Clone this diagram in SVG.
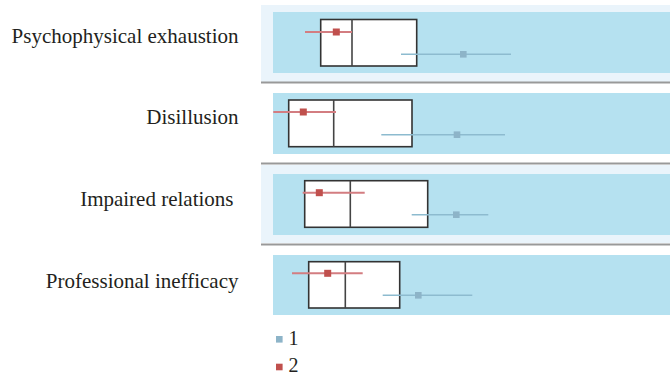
<svg xmlns="http://www.w3.org/2000/svg" width="670" height="376" viewBox="0 0 670 376">
<style>
.lbl{font-family:"Liberation Serif","Times New Roman",serif;font-size:21px;fill:#231f20;text-anchor:end}
.leg{font-family:"Liberation Serif","Times New Roman",serif;font-size:20px;fill:#231f20}
.band{fill:#eaf4fb}
.plot{fill:#b5e1f0}
.sep{stroke:#999;stroke-width:2}
.box{fill:#fff;stroke:#333;stroke-width:1.6}
.med{stroke:#444;stroke-width:1.6}
.r1{stroke:#d37d81;stroke-width:2}
.r2{fill:#c0504d}
.b1{stroke:#8dbbcf;stroke-width:1.6}
.b2{fill:#8db4c8}
</style>
<rect x="0" y="0" width="670" height="376" fill="#fff"/>
<g id="panels">
<rect class="band" x="261" y="5" width="409" height="77"/>
<rect class="band" x="261" y="165" width="409" height="78"/>
<rect class="plot" x="273" y="12" width="397" height="61"/>
<rect class="plot" x="273" y="93" width="397" height="61"/>
<rect class="plot" x="273" y="174" width="397" height="61"/>
<rect class="plot" x="273" y="255" width="397" height="60"/>
<line class="sep" x1="261" y1="82.5" x2="670" y2="82.5"/>
<line class="sep" x1="261" y1="163.5" x2="670" y2="163.5"/>
<line class="sep" x1="261" y1="244.5" x2="670" y2="244.5"/>
</g>
<g id="psychophysical">
<text class="lbl" x="238.5" y="42.7">Psychophysical exhaustion</text>
<rect class="box" x="320.7" y="19.5" width="96" height="46.5"/>
<line class="med" x1="352" y1="19.5" x2="352" y2="66"/>
<line class="r1" x1="305" y1="32" x2="352" y2="32"/>
<rect class="r2" x="332.8" y="28.5" width="7" height="7"/>
<line class="b1" x1="401" y1="54.3" x2="511" y2="54.3"/>
<rect class="b2" x="460" y="51" width="6.6" height="6.6"/>
</g>
<g id="disillusion">
<text class="lbl" x="238.5" y="124">Disillusion</text>
<rect class="box" x="288.7" y="100" width="123.3" height="46.7"/>
<line class="med" x1="333.7" y1="100" x2="333.7" y2="146.7"/>
<line class="r1" x1="273.3" y1="112" x2="336" y2="112"/>
<rect class="r2" x="299.8" y="108.5" width="7" height="7"/>
<line class="b1" x1="381.3" y1="134.7" x2="505" y2="134.7"/>
<rect class="b2" x="453.7" y="131.4" width="6.6" height="6.6"/>
</g>
<g id="impaired">
<text class="lbl" x="233.5" y="205.7">Impaired relations</text>
<rect class="box" x="304.7" y="180.7" width="123" height="46.6"/>
<line class="med" x1="350.3" y1="180.7" x2="350.3" y2="227.3"/>
<line class="r1" x1="302.7" y1="192.7" x2="364.7" y2="192.7"/>
<rect class="r2" x="315.8" y="189.2" width="7" height="7"/>
<line class="b1" x1="411.7" y1="214.7" x2="488.3" y2="214.7"/>
<rect class="b2" x="453" y="211.4" width="6.6" height="6.6"/>
</g>
<g id="professional">
<text class="lbl" x="238.5" y="288.3">Professional inefficacy</text>
<rect class="box" x="308.7" y="261.7" width="91" height="46.3"/>
<line class="med" x1="345.3" y1="261.7" x2="345.3" y2="308"/>
<line class="r1" x1="292" y1="273.3" x2="362.7" y2="273.3"/>
<rect class="r2" x="324.2" y="269.8" width="7" height="7"/>
<line class="b1" x1="382.7" y1="295.3" x2="472.3" y2="295.3"/>
<rect class="b2" x="415" y="292" width="6.6" height="6.6"/>
</g>
<g id="legend">
<rect class="b2" x="276" y="336" width="6.6" height="6.6"/>
<text class="leg" x="288.5" y="345">1</text>
<rect class="r2" x="276" y="363.7" width="6.6" height="6.6"/>
<text class="leg" x="288.5" y="372.3">2</text>
</g>
</svg>
